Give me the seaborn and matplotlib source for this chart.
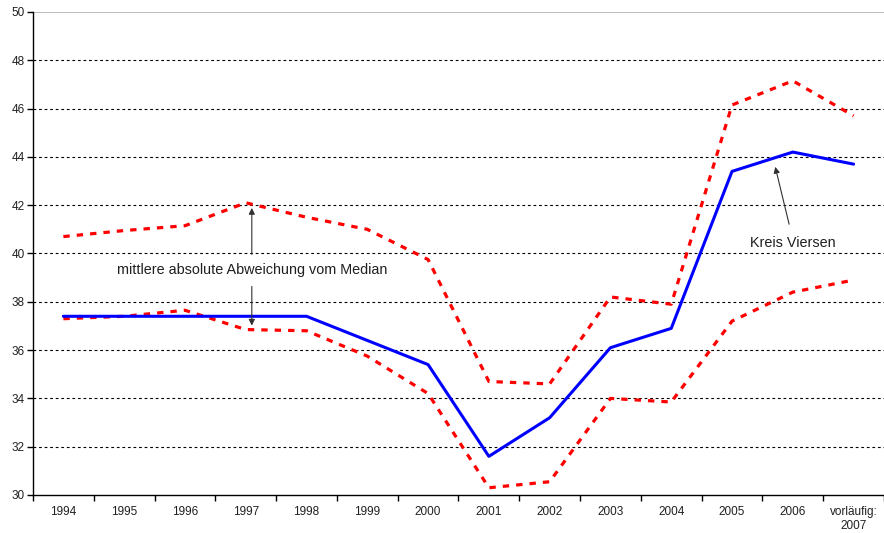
import matplotlib
matplotlib.use("Agg")
import matplotlib.pyplot as plt
import seaborn as sns
import pandas as pd

years = ["1994", "1995", "1996", "1997", "1998", "1999", "2000", "2001",
         "2002", "2003", "2004", "2005", "2006", "vorläufig:\n2007"]
kreis_viersen = [37.4, 37.4, 37.4, 37.4, 37.4, 36.4, 35.4, 31.6,
                 33.2, 36.1, 36.9, 43.4, 44.2, 43.7]
upper = [40.7, 40.95, 41.15, 42.1, 41.5, 41.0, 39.75, 34.7,
         34.6, 38.2, 37.9, 46.15, 47.15, 45.7]
lower = [37.3, 37.4, 37.65, 36.85, 36.8, 35.75, 34.2, 30.3,
         30.55, 34.0, 33.85, 37.2, 38.4, 38.9]

sns.set_style("white")
plt.rcParams["font.family"] = ["Liberation Sans", "DejaVu Sans"]

df = pd.DataFrame({"pos": list(range(len(years))) * 3,
                   "value": kreis_viersen + upper + lower,
                   "series": ["Kreis Viersen"] * len(years) + ["upper"] * len(years) + ["lower"] * len(years)})

fig = plt.figure(figsize=(8.84, 5.33), dpi=100)
ax = fig.add_axes([0.0373, 0.0713, 0.9627, 0.9062])

sns.lineplot(data=df[df.series == "upper"], x="pos", y="value", color="#ff0000",
             lw=2.3, ax=ax, dashes=False, linestyle=(0, (2.0, 2.2)))
sns.lineplot(data=df[df.series == "lower"], x="pos", y="value", color="#ff0000",
             lw=2.3, ax=ax, dashes=False, linestyle=(0, (2.0, 2.2)))
sns.lineplot(data=df[df.series == "Kreis Viersen"], x="pos", y="value", color="#0000ff",
             lw=2.2, ax=ax)

ax.set_xlim(-0.5, len(years) - 0.5)
ax.set_ylim(30, 50)
ax.set_yticks(range(30, 51, 2))
ax.set_yticklabels([str(v) for v in range(30, 51, 2)], fontsize=8.5, color="#202020")
ax.set_xticks(range(len(years)))
ax.set_xticklabels(years, fontsize=8.5, color="#202020")
ax.set_xticks([i - 0.5 for i in range(len(years) + 1)], minor=True)
ax.tick_params(axis="x", which="major", bottom=False, length=0, pad=8)
ax.tick_params(axis="x", which="minor", bottom=True, length=4, color="black", width=1, direction="out")
ax.tick_params(axis="y", left=True, length=4, color="black", width=1, direction="out", pad=2)
ax.set_xlabel("")
ax.set_ylabel("")

for v in range(32, 50, 2):
    ax.axhline(v, color="black", lw=0.8, linestyle=(0, (2.5, 2.5)), zorder=0)
ax.axhline(50, color="#b0b0b0", lw=1.2, zorder=0)

for s in ["right", "top"]:
    ax.spines[s].set_visible(False)
ax.spines["left"].set_color("black")
ax.spines["bottom"].set_color("black")
ax.spines["left"].set_linewidth(1)
ax.spines["bottom"].set_linewidth(1)

ax.text(3.1, 39.3, "mittlere absolute Abweichung vom Median", fontsize=10.4,
        ha="center", va="center", color="#202020")
ax.annotate("", xy=(3.1, 42.0), xytext=(3.1, 39.85),
            arrowprops=dict(arrowstyle="-|>", color="#303030", lw=0.8, mutation_scale=9))
ax.annotate("", xy=(3.1, 36.9), xytext=(3.1, 38.75),
            arrowprops=dict(arrowstyle="-|>", color="#303030", lw=0.8, mutation_scale=9))

ax.text(12.0, 40.45, "Kreis Viersen", fontsize=10.4, ha="center", va="center", color="#202020")
ax.annotate("", xy=(11.7, 43.7), xytext=(11.95, 41.1),
            arrowprops=dict(arrowstyle="-|>", color="#303030", lw=0.8, mutation_scale=9))

fig.savefig("out.png", dpi=100)
